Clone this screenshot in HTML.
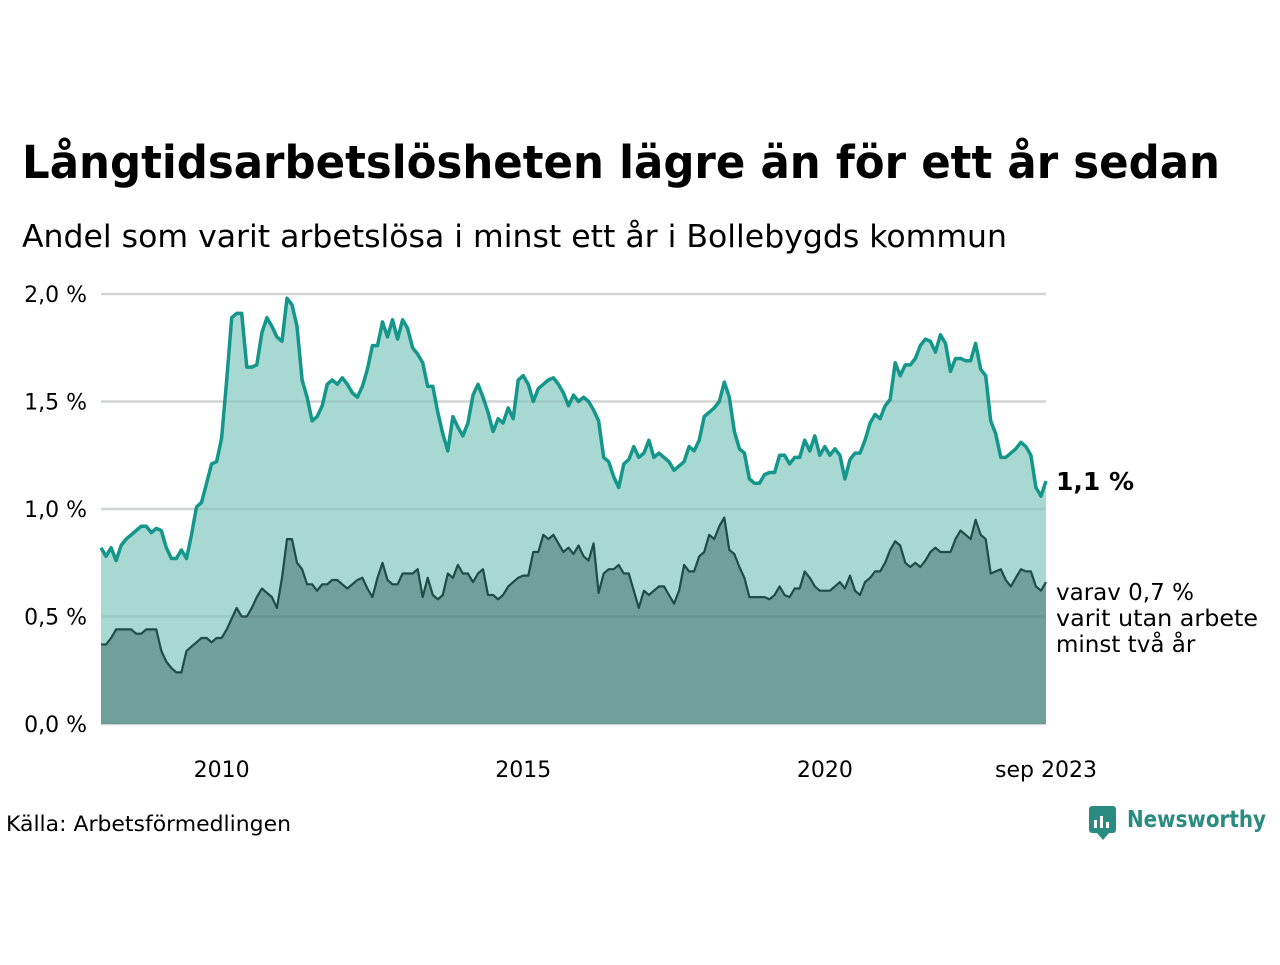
<!DOCTYPE html>
<html><head><meta charset="utf-8"><style>
body{margin:0;background:#fff;width:1280px;height:960px;overflow:hidden;font-family:"Liberation Sans","DejaVu Sans",sans-serif;color:#111}
</style></head><body>
<svg width="1280" height="960" id="svg" font-family="'DejaVu Sans','Liberation Sans',sans-serif">
<text x="22" y="178" font-size="45" font-weight="bold" textLength="1198" lengthAdjust="spacingAndGlyphs">Långtidsarbetslösheten lägre än för ett år sedan</text>
<text x="22" y="247" font-size="31" textLength="985" lengthAdjust="spacingAndGlyphs">Andel som varit arbetslösa i minst ett år i Bollebygds kommun</text>
<g id="grid"></g><g id="plot"></g><g id="ylab"></g><g id="xlab"></g>
<text x="1056" y="490" font-size="25" font-weight="bold">1,1 %</text>
<text font-size="23"><tspan x="1056" y="600">varav 0,7 %</tspan><tspan x="1056" y="626" textLength="202" lengthAdjust="spacingAndGlyphs">varit utan arbete</tspan><tspan x="1056" y="652">minst två år</tspan></text>
<text x="6" y="831" font-size="21" textLength="285" lengthAdjust="spacingAndGlyphs">Källa: Arbetsförmedlingen</text>
<g>
<rect x="1089" y="806" width="27" height="27" rx="3" fill="#2a8c80"/>
<path d="M1097 833 L1103 840 L1109 833Z" fill="#2a8c80"/>
<rect x="1094" y="820" width="3" height="8" fill="#fff"/><rect x="1100" y="816" width="3" height="12" fill="#fff"/><rect x="1106" y="822" width="3" height="6" fill="#fff"/>
<text x="1127" y="827" font-size="23" font-weight="bold" fill="#2a8c80" textLength="139" lengthAdjust="spacingAndGlyphs">Newsworthy</text>
</g>
</svg>
<script>
const years=[2010,2015,2020];
const yTicks=[0,0.5,1.0,1.5,2.0];
const yTickLabels=["0,0 %","0,5 %","1,0 %","1,5 %","2,0 %"];
const total=[0.82,0.78,0.82,0.76,0.83,0.86,0.88,0.90,0.92,0.92,0.89,0.91,
0.90,0.82,0.77,0.77,0.81,0.77,0.88,1.01,1.03,1.12,1.21,1.22,
1.33,1.60,1.89,1.91,1.91,1.66,1.66,1.67,1.82,1.89,1.85,1.80,
1.78,1.98,1.95,1.85,1.60,1.52,1.41,1.43,1.48,1.58,1.60,1.58,
1.61,1.58,1.54,1.52,1.57,1.65,1.76,1.76,1.87,1.80,1.88,1.79,
1.88,1.84,1.75,1.72,1.68,1.57,1.57,1.45,1.35,1.27,1.43,1.38,
1.34,1.40,1.53,1.58,1.52,1.45,1.36,1.42,1.40,1.47,1.42,1.60,
1.62,1.58,1.50,1.56,1.58,1.60,1.61,1.58,1.54,1.48,1.53,1.50,
1.52,1.50,1.46,1.41,1.24,1.22,1.15,1.10,1.21,1.23,1.29,1.24,
1.26,1.32,1.24,1.26,1.24,1.22,1.18,1.20,1.22,1.29,1.27,1.32,
1.43,1.45,1.47,1.50,1.59,1.52,1.36,1.28,1.26,1.14,1.12,1.12,
1.16,1.17,1.17,1.25,1.25,1.21,1.24,1.24,1.32,1.27,1.34,1.25,
1.29,1.25,1.28,1.25,1.14,1.23,1.26,1.26,1.32,1.40,1.44,1.42,
1.48,1.51,1.68,1.62,1.67,1.67,1.70,1.76,1.79,1.78,1.73,1.81,
1.77,1.64,1.70,1.70,1.69,1.69,1.77,1.65,1.62,1.41,1.35,1.24,
1.24,1.26,1.28,1.31,1.29,1.25,1.10,1.06,1.13];
const longTerm=[0.37,0.37,0.40,0.44,0.44,0.44,0.44,0.42,0.42,0.44,0.44,0.44,
0.34,0.29,0.26,0.24,0.24,0.34,0.36,0.38,0.40,0.40,0.38,0.40,
0.40,0.44,0.49,0.54,0.50,0.50,0.54,0.59,0.63,0.61,0.59,0.54,
0.68,0.86,0.86,0.75,0.72,0.65,0.65,0.62,0.65,0.65,0.67,0.67,
0.65,0.63,0.65,0.67,0.68,0.63,0.59,0.68,0.75,0.67,0.65,0.65,
0.70,0.70,0.70,0.72,0.59,0.68,0.60,0.58,0.60,0.70,0.68,0.74,
0.70,0.70,0.66,0.70,0.72,0.60,0.60,0.58,0.60,0.64,0.66,0.68,
0.69,0.69,0.80,0.80,0.88,0.86,0.88,0.84,0.80,0.82,0.79,0.83,
0.78,0.76,0.84,0.61,0.70,0.72,0.72,0.74,0.70,0.70,0.62,0.54,
0.62,0.60,0.62,0.64,0.64,0.60,0.56,0.62,0.74,0.71,0.71,0.78,
0.80,0.88,0.86,0.92,0.96,0.81,0.79,0.73,0.68,0.59,0.59,0.59,
0.59,0.58,0.60,0.64,0.60,0.59,0.63,0.63,0.71,0.68,0.64,0.62,
0.62,0.62,0.64,0.66,0.63,0.69,0.62,0.60,0.66,0.68,0.71,0.71,
0.75,0.81,0.85,0.83,0.75,0.73,0.75,0.73,0.76,0.80,0.82,0.80,
0.80,0.80,0.86,0.90,0.88,0.86,0.95,0.88,0.86,0.70,0.71,0.72,
0.67,0.64,0.68,0.72,0.71,0.71,0.64,0.62,0.66];
const NS="http://www.w3.org/2000/svg";
const x0=101,x1=1046,y0=724,yTop=294,startYear=2008;
const n=total.length;
const xs=i=>x0+(x1-x0)*i/(n-1);
const xYear=yr=>x0+(yr-startYear)*12*(x1-x0)/(n-1);
const ys=v=>y0-(y0-yTop)*v/2.0;
function mk(tag,attrs,parent){const e=document.createElementNS(NS,tag);for(const k in attrs)e.setAttribute(k,attrs[k]);parent.appendChild(e);return e;}
const plot=document.getElementById('plot'),grid=document.getElementById('grid'),ylab=document.getElementById('ylab'),xlab=document.getElementById('xlab');
yTicks.forEach((t,i)=>{
 const l=mk('line',{x1:x0,x2:x1,y1:ys(t),y2:ys(t),stroke:'#e4e4e4','stroke-width':2.5},grid);
 
 
 const tx=mk('text',{x:87,y:ys(t)+8,'text-anchor':'end','font-size':22},ylab);
 tx.textContent=yTickLabels[i];
 
 
});
function series(arr,fill,stroke,sw,name){
 let d='M'+xs(0)+','+ys(arr[0]);
 for(let i=1;i<arr.length;i++)d+='L'+xs(i).toFixed(1)+','+ys(arr[i]).toFixed(1);
 const a=mk('path',{d:d+'L'+xs(arr.length-1)+','+y0+'L'+x0+','+y0+'Z',fill:fill,'fill-opacity':0.9},plot);
 
 
 const l=mk('path',{d:d,fill:'none',stroke:stroke,'stroke-width':sw,'stroke-linejoin':'round'},plot);
 
 
}
series(total,'#9ed4cd','#15968a',3.5,'total-series');
series(longTerm,'#6a9992','#1f4c45',2.2,'long-term-series');
yTicks.forEach(t=>{const l=mk('line',{x1:x0,x2:x1,y1:ys(t),y2:ys(t),stroke:'rgba(60,90,85,0.1)','stroke-width':2.5},plot);
 
 });
years.forEach(yr=>{const t=mk('text',{x:xYear(yr),y:777,'text-anchor':'middle','font-size':22},xlab);t.textContent=yr;
 
 });
const e=mk('text',{x:x1,y:777,'text-anchor':'middle','font-size':22},xlab);e.textContent='sep 2023';


</script>
</body></html>
